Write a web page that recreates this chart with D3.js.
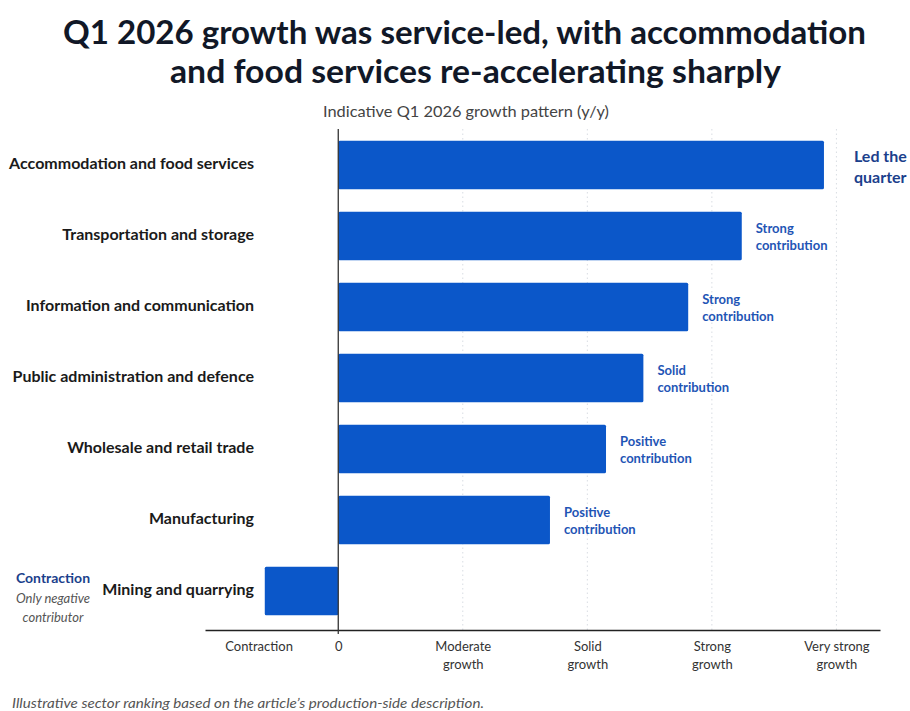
<!DOCTYPE html>
<html>
<head>
<meta charset="utf-8">
<script src="https://cdn.jsdelivr.net/npm/d3@7"></script>
<style>
  html, body { margin: 0; padding: 0; background: #ffffff; }
  svg { display: block; }
  text { font-family: Lato, "Open Sans", "Noto Sans", sans-serif; }
</style>
</head>
<body>
<svg id="chart" width="910" height="711"></svg>
<script>
// Sectors, top to bottom
const categories = [
  "Accommodation and food services",
  "Transportation and storage",
  "Information and communication",
  "Public administration and defence",
  "Wholesale and retail trade",
  "Manufacturing",
  "Mining and quarrying"
];
// Indicative growth strength on an ordinal-like scale (0 = no growth, 4 = very strong)
const values = [3.9, 3.24, 2.81, 2.45, 2.15, 1.70, -0.59];
// Notes placed to the right of each positive bar
const notes = [
  ["Led the", "quarter"],
  ["Strong", "contribution"],
  ["Strong", "contribution"],
  ["Solid", "contribution"],
  ["Positive", "contribution"],
  ["Positive", "contribution"],
  null
];
// Axis ticks and their labels
const tickValues = [-0.64, 0, 1, 2, 3, 4];
const tickLabels = [
  ["Contraction"],
  ["0"],
  ["Moderate", "growth"],
  ["Solid", "growth"],
  ["Strong", "growth"],
  ["Very strong", "growth"]
];
const gridValues = [1, 2, 3, 4];

const titleLines = [
  "Q1 2026 growth was service-led, with accommodation",
  "and food services re-accelerating sharply"
];
const subtitle = "Indicative Q1 2026 growth pattern (y/y)";
const contractionNote = ["Contraction", "Only negative", "contributor"];
const footnote = "Illustrative sector ranking based on the article\u2019s production-side description.";

const svg = d3.select("#chart");
const barColor = "#0b57c9";
const noteColor = "#1f55b5";
const darkBlue = "#1b3f8c";

const x = d3.scaleLinear().domain([-1.07, 4.35]).range([205, 880]);
const y = d3.scaleBand().domain(categories).range([129.5, 626.5])
  .paddingInner(0.32).paddingOuter(0.16);
const axisY = 630;

// Title
svg.append("g").selectAll("text").data(titleLines).join("text")
  .attr("x", (d, i) => i === 0 ? 464.5 : 475.5)
  .attr("y", (d, i) => 44 + i * 39)
  .attr("text-anchor", "middle")
  .attr("font-size", 32)
  .attr("font-weight", 700)
  .attr("fill", "#111827")
  .attr("textLength", (d, i) => i === 0 ? 803 : 611)
  .attr("lengthAdjust", "spacingAndGlyphs")
  .text(d => d);

// Subtitle
svg.append("text")
  .attr("x", 466).attr("y", 117)
  .attr("text-anchor", "middle")
  .attr("font-size", 15)
  .attr("fill", "#444")
  .attr("textLength", 286)
  .attr("lengthAdjust", "spacingAndGlyphs")
  .text(subtitle);

// Dotted grid lines
svg.append("g").selectAll("line").data(gridValues).join("line")
  .attr("x1", d => x(d)).attr("x2", d => x(d))
  .attr("y1", 129).attr("y2", axisY)
  .attr("stroke", "#d9dde3")
  .attr("stroke-width", 1)
  .attr("stroke-dasharray", "1.5,3");

// Bars
svg.append("g").selectAll("rect").data(categories).join("rect")
  .attr("x", (d, i) => x(Math.min(0, values[i])))
  .attr("y", d => y(d))
  .attr("width", (d, i) => Math.abs(x(values[i]) - x(0)))
  .attr("height", y.bandwidth())
  .attr("rx", 1.5)
  .attr("fill", barColor);

// Bottom axis
const axis = d3.axisBottom(x).tickValues(tickValues).tickSize(0).tickFormat("");
const axisG = svg.append("g").attr("transform", `translate(0,${axisY})`).call(axis);
axisG.select(".domain").attr("stroke", "#222").attr("stroke-width", 1.3);
axisG.selectAll(".tick").each(function(d, i) {
  const t = d3.select(this).append("text")
    .attr("text-anchor", "middle")
    .attr("fill", "#333")
    .attr("font-size", 13)
    .attr("font-family", "Lato, 'Open Sans', sans-serif");
  tickLabels[i].forEach((line, k) => {
    t.append("tspan").attr("x", 0).attr("y", 21 + k * 18).text(line);
  });
});

// Zero line
svg.append("line")
  .attr("x1", x(0)).attr("x2", x(0))
  .attr("y1", 129).attr("y2", axisY + 4)
  .attr("stroke", "#333").attr("stroke-width", 1.3);

// Category labels
svg.append("g").selectAll("text").data(categories).join("text")
  .attr("x", 254)
  .attr("y", d => y(d) + y.bandwidth() / 2 - 2)
  .attr("dy", "0.35em")
  .attr("text-anchor", "end")
  .attr("font-size", 16)
  .attr("font-weight", 700)
  .attr("fill", "#1a1a1a")
  .text(d => d);

// Notes beside bars
categories.forEach((c, i) => {
  const n = notes[i];
  if (!n) return;
  const cy = y(c) + y.bandwidth() / 2;
  const lead = i === 0;
  const t = svg.append("text")
    .attr("font-size", lead ? 16 : 13)
    .attr("font-weight", 700)
    .attr("fill", lead ? darkBlue : noteColor);
  n.forEach((line, k) => {
    t.append("tspan")
      .attr("x", x(values[i]) + (lead ? 30 : 14))
      .attr("y", lead ? cy - 3 + k * 21 : cy - 3 + k * 17)
      .text(line);
  });
});

// Contraction note on the left
const mining = categories[categories.length - 1];
const my = y(mining) + y.bandwidth() / 2;
svg.append("text")
  .attr("x", 53).attr("y", my - 8)
  .attr("text-anchor", "middle")
  .attr("font-size", 14).attr("font-weight", 700)
  .attr("fill", darkBlue)
  .text(contractionNote[0]);
svg.append("g").selectAll("text").data(contractionNote.slice(1)).join("text")
  .attr("x", 53)
  .attr("y", (d, k) => my + 12 + k * 19)
  .attr("text-anchor", "middle")
  .attr("font-size", 13)
  .attr("font-style", "italic")
  .attr("fill", "#555")
  .text(d => d);

// Footnote
svg.append("text")
  .attr("x", 12).attr("y", 708)
  .attr("font-size", 14)
  .attr("font-style", "italic")
  .attr("fill", "#555")
  .attr("textLength", 472)
  .attr("lengthAdjust", "spacingAndGlyphs")
  .text(footnote);
</script>
</body>
</html>
